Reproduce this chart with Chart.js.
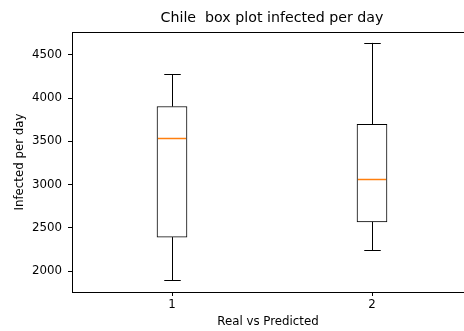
<!DOCTYPE html>
<html>
<head>
<meta charset="utf-8">
<title>Chile box plot</title>
<script src="https://cdn.jsdelivr.net/npm/chart.js@4"></script>
<style>
  html, body { margin: 0; padding: 0; background: #fff; overflow: hidden; }
</style>
</head>
<body>
<canvas id="chart" width="464" height="331"></canvas>
<script>
// box plot stats
const categories = [1, 2];
const whiskerLow = [1896, 2239];
const q1 = [2393, 2569];
const median = [3535, 3069];
const q3 = [3903, 3696];
const whiskerHigh = [4277, 4639];

const yTicks = [2000, 2500, 3000, 3500, 4000, 4500];
const yRange = [1758, 4765];
// the right side of the axes is cut off in the picture
const xRange = [0.5, 2.46];

const titleText = 'Chile  box plot infected per day';
const font = "'DejaVu Sans', sans-serif";

// whiskers, caps, medians, top spine and the title over the axes
const boxPlugin = {
  id: 'boxPlugin',
  afterDatasetsDraw(chart) {
    const ctx = chart.ctx;
    const x = chart.scales.x;
    const y = chart.scales.y;
    const bars = chart.getDatasetMeta(0).data;
    const area = chart.chartArea;

    ctx.save();
    ctx.lineWidth = 1;
    ctx.strokeStyle = '#000';
    for (let i = 0; i < categories.length; i++) {
      const px = Math.round(x.getPixelForValue(categories[i])) + 0.5;
      const half = bars[i].width / 2;
      const cap = half * 0.55;

      ctx.beginPath();
      ctx.moveTo(px, y.getPixelForValue(q3[i]));
      ctx.lineTo(px, y.getPixelForValue(whiskerHigh[i]));
      ctx.moveTo(px, y.getPixelForValue(q1[i]));
      ctx.lineTo(px, y.getPixelForValue(whiskerLow[i]));
      let yy = Math.round(y.getPixelForValue(whiskerHigh[i])) + 0.5;
      ctx.moveTo(px - cap, yy);
      ctx.lineTo(px + cap, yy);
      yy = Math.round(y.getPixelForValue(whiskerLow[i])) + 0.5;
      ctx.moveTo(px - cap, yy);
      ctx.lineTo(px + cap, yy);
      ctx.stroke();
    }

    ctx.strokeStyle = '#ff7f0e';
    ctx.lineWidth = 1.5;
    for (let i = 0; i < categories.length; i++) {
      const half = bars[i].width / 2;
      const yy = Math.round(y.getPixelForValue(median[i])) + 0.5;
      ctx.beginPath();
      ctx.moveTo(bars[i].x - half + 1, yy);
      ctx.lineTo(bars[i].x + half - 1, yy);
      ctx.stroke();
    }

    ctx.strokeStyle = '#000';
    ctx.lineWidth = 1;
    ctx.beginPath();
    ctx.moveTo(area.left, Math.round(area.top) + 0.5);
    ctx.lineTo(area.right, Math.round(area.top) + 0.5);
    ctx.stroke();

    ctx.fillStyle = '#000';
    ctx.font = '14.2px ' + font;
    ctx.textAlign = 'center';
    ctx.textBaseline = 'alphabetic';
    ctx.fillText(titleText, x.getPixelForValue((xRange[0] + 2.5) / 2), 21.5);
    ctx.restore();
  }
};

new Chart(document.getElementById('chart'), {
  type: 'bar',
  data: {
    datasets: [{
      data: categories.map((c, i) => ({ x: c, y: [q1[i], q3[i]] })),
      backgroundColor: '#fff',
      borderColor: '#000',
      borderWidth: 1,
      borderSkipped: false,
      barThickness: 30
    }]
  },
  options: {
    responsive: false,
    devicePixelRatio: 1,
    animation: false,
    layout: { padding: { top: 32, left: 0, right: 0, bottom: 0 } },
    plugins: {
      legend: { display: false },
      tooltip: { enabled: false },
      title: { display: false }
    },
    scales: {
      x: {
        type: 'linear',
        offset: false,
        min: xRange[0],
        max: xRange[1],
        afterBuildTicks: (s) => { s.ticks = categories.map(v => ({ value: v })); },
        afterFit: (s) => { s.height = 39; },
        grid: { offset: false, drawOnChartArea: false, drawTicks: true, tickLength: 4, color: '#000' },
        border: { display: true, color: '#000', width: 1 },
        ticks: { color: '#000', padding: 2, font: { family: font, size: 11.8 }, callback: (v) => String(v) },
        title: {
          display: true,
          text: 'Real vs Predicted',
          color: '#000',
          font: { family: font, size: 11.8 },
          padding: { top: 0, bottom: 2 }
        }
      },
      y: {
        min: yRange[0],
        max: yRange[1],
        afterBuildTicks: (s) => { s.ticks = yTicks.map(v => ({ value: v })); },
        afterFit: (s) => { s.width = 72; },
        grid: { drawOnChartArea: false, drawTicks: true, tickLength: 4, color: '#000' },
        border: { display: true, color: '#000', width: 1 },
        ticks: { color: '#000', padding: 6, font: { family: font, size: 11.8 }, callback: (v) => String(v) },
        title: {
          display: true,
          text: 'Infected per day',
          color: '#000',
          font: { family: font, size: 11.8 },
          padding: { top: 13.1, bottom: 0 }
        }
      }
    }
  },
  plugins: [boxPlugin]
});
</script>
</body>
</html>
